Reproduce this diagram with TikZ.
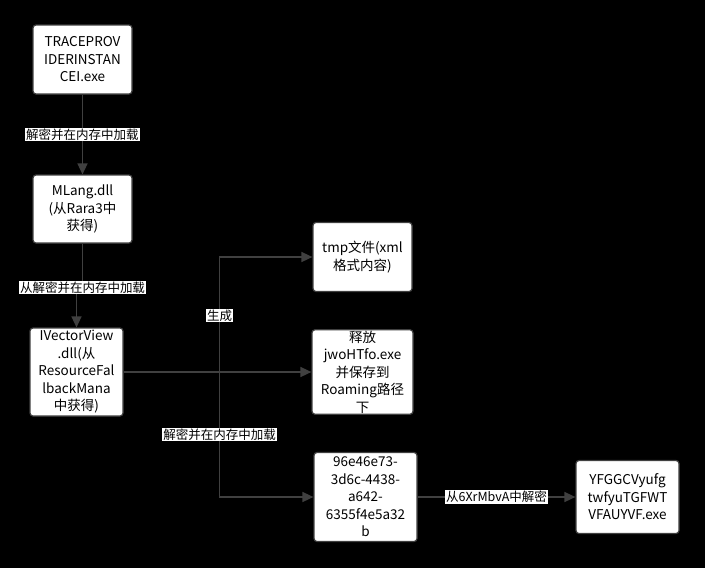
\documentclass[tikz,border=0pt]{standalone}
\usepackage{fontspec}
\setmainfont{Noto Sans CJK SC}
\usetikzlibrary{positioning, arrows.meta}
\definecolor{wire}{RGB}{64,64,64}

\begin{document}
\begin{tikzpicture}[x=1pt, y=1pt, node distance=100pt, on grid,
    file/.style={draw=wire, line width=1.2pt, fill=white, rounded corners=3pt, align=center,
        minimum width=99pt, minimum height=69pt, inner sep=1pt,
        font=\fontsize{13.5}{17.5}\selectfont},
    tag/.style={fill=white, inner sep=1pt, font=\fontsize{12.5}{14}\selectfont},
    conn/.style={draw=wire, line width=1.6pt, -{Triangle[length=11pt, width=10pt]}}]
    \fill[black] (0,0) rectangle (705,-568);
    \node[file] (trace) at (82.5,-59.5) {TRACEPROV\\IDERINSTAN\\CEI.exe};
    \node[file, below=149.5pt of trace, minimum height=68pt] (mlang) {MLang.dll\\(从Rara3中\\获得)};
    \node[file, below left=163pt and 6pt of mlang, minimum width=93pt, minimum height=88pt] (ivector) {IVectorView\\.dll(从\\ResourceFal\\lbackMana\\中获得)};
    \node[file, right=286pt of ivector, minimum width=101pt, minimum height=81pt] (release) {释放\\jwoHTfo.exe\\并保存到\\Roaming路径\\下};
    \node[file, above=115pt of release] (tmp) {tmp文件(xml\\格式内容)};
    \node[file, below right=125pt and 3pt of release, minimum width=103pt, minimum height=89pt] (guid) {96e46e73-\\3d6c-4438-\\a642-\\6355f4e5a32\\b};
    \node[file, right=262pt of guid, minimum width=103pt, minimum height=73pt] (yfg) {YFGGCVyufg\\twfyuTGFWT\\VFAUYVF.exe};

    \draw[conn] (trace) -- node[tag] {解密并在内存中加载} (mlang);
    \draw[conn] (mlang.south) -- ++(0,-44) coordinate (jog) -| (ivector.north);
    \node[tag] at (jog) {从解密并在内存中加载};
    \draw[conn] (ivector.east) -- (release.west);
    \draw[conn] (ivector.east) -- ++(96,0) coordinate (fork) |- node[tag, pos=0.245] {生成} (tmp.west);
    \draw[conn] (fork) |- node[tag, pos=0.25] {解密并在内存中加载} (guid.west);
    \draw[conn] (guid) -- node[tag] {从6XrMbvA中解密} (yfg);
\end{tikzpicture}
\end{document}
